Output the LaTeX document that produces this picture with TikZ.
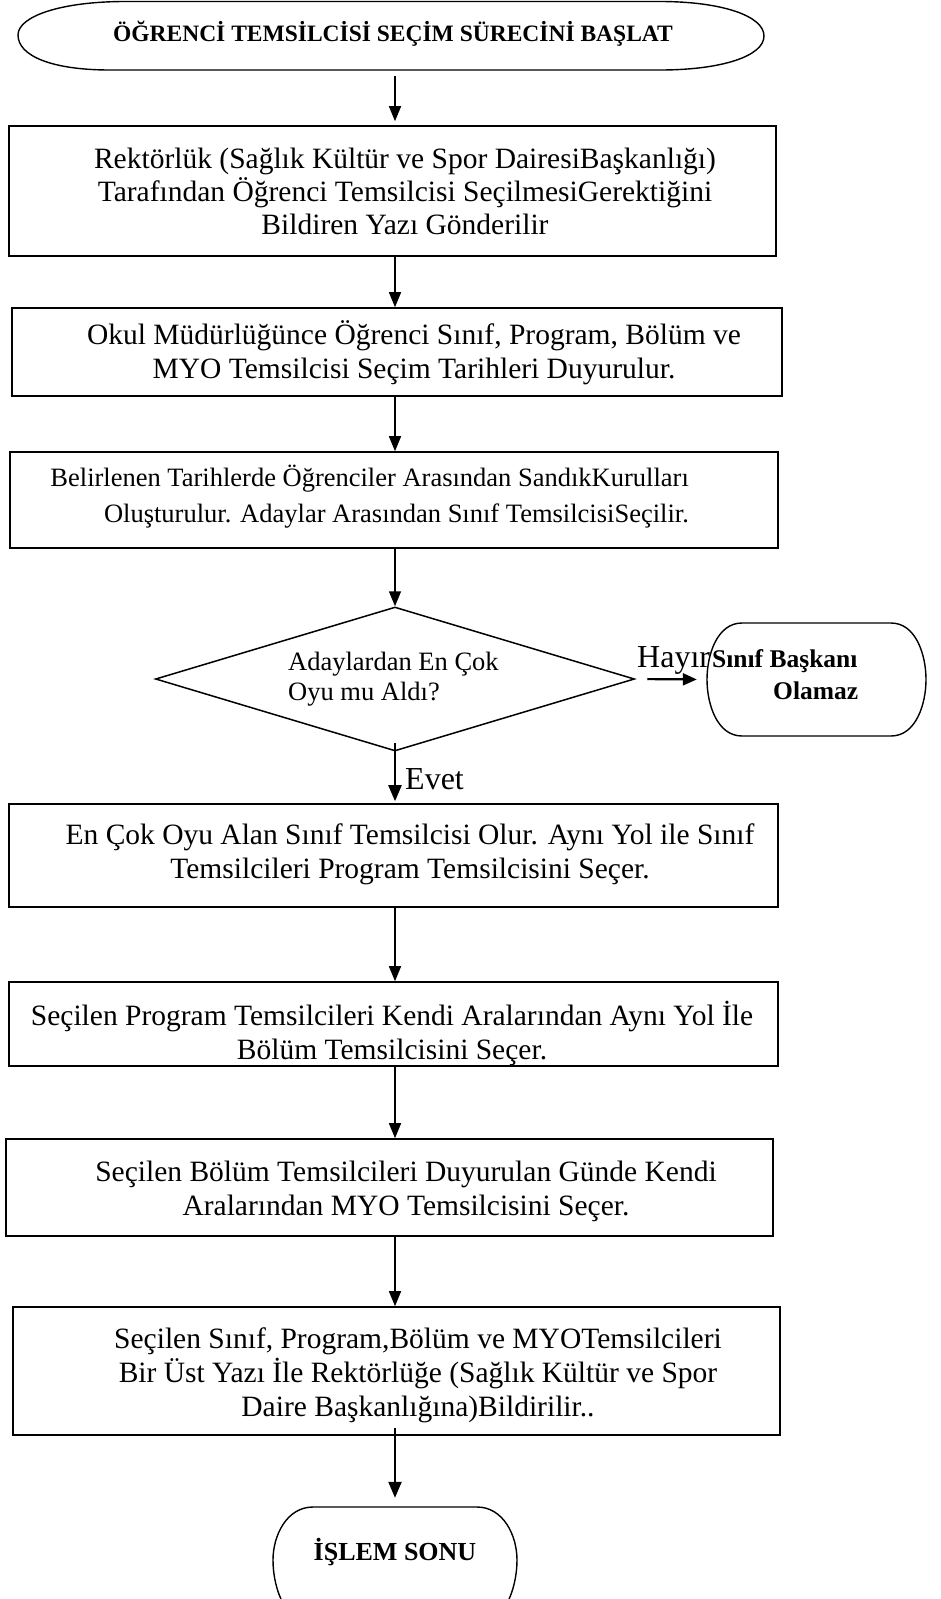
\documentclass[tikz,border=0pt]{standalone}
\usepackage{fontspec}
\setmainfont{Liberation Serif}
\usetikzlibrary{arrows.meta,shapes.geometric}
\tikzset{
  boxst/.style={draw, line width=1.6pt, inner sep=0pt},
  txt/.style={align=center, inner sep=0pt, font=\fontsize{29.5}{34}\selectfont},
  smalltxt/.style={inner sep=0pt, font=\fontsize{26.5}{30}\selectfont},
  boldtxt/.style={inner sep=0pt, font=\bfseries\fontsize{25.5}{30}\selectfont},
  lbl/.style={inner sep=0pt, font=\fontsize{32}{36}\selectfont},
  arr/.style={line width=1.5pt, -{Triangle[length=15pt,width=12pt]}},
  thickarr/.style={line width=2.3pt, -{Triangle[length=16pt,width=13pt]}},
  outline/.style={line width=1.4pt}
}
\begin{document}
\begin{tikzpicture}[x=1pt,y=-1pt]
\useasboundingbox (0,0) rectangle (941,1599);
\fill[white] (0,0) rectangle (941,1599);
\coordinate (ax) at (395,0);

% start terminator
\node[inner sep=0pt, minimum width=748pt, minimum height=69pt] (start) at (392,36) {};
\draw[outline] (125,1.5) -- (660,1.5) .. controls (722,1.5) and (764,16) .. (764,36)
  .. controls (764,56) and (722,70) .. (660,70) -- (110,70)
  .. controls (52,70) and (18,56) .. (18,35) .. controls (18,16) and (62,1.5) .. (125,1.5);
\node[inner sep=0pt, font=\bfseries\fontsize{23.5}{28}\selectfont] (starttxt) at (393,34) {ÖĞRENCİ TEMSİLCİSİ SEÇİM SÜRECİNİ BAŞLAT};

% boxes
\node[boxst, minimum width=767pt, minimum height=130pt] (b1) at (392.5,191) {};
\node[txt, font=\fontsize{29.5}{33}\selectfont] (t1) at (405,191) {Rektörlük (Sağlık Kültür ve Spor DairesiBaşkanlığı)\\Tarafından Öğrenci Temsilcisi SeçilmesiGerektiğini\\Bildiren Yazı Gönderilir};

\node[boxst, minimum width=770pt, minimum height=88pt] (b2) at (397,352) {};
\node[txt] (t2) at (414,353) {Okul Müdürlüğünce Öğrenci Sınıf, Program, Bölüm ve\\MYO Temsilcisi Seçim Tarihleri Duyurulur.};

\node[boxst, minimum width=768pt, minimum height=96pt] (b3) at (394,500) {};
\node[smalltxt, align=right, font=\fontsize{26.5}{36}\selectfont, anchor=east] (t3) at (689,497) {Belirlenen Tarihlerde Öğrenciler Arasından SandıkKurulları\\Oluşturulur. Adaylar Arasından Sınıf TemsilcisiSeçilir.};

% decision
\node[draw, diamond, line width=1.5pt, inner sep=0pt, minimum width=479pt, minimum height=144pt] (dec) at (395,679) {};
\node[smalltxt, align=left, anchor=west] (dectxt) at (288,679) {Adaylardan En Çok\\Oyu mu Aldı?};

% olamaz
\node[inner sep=0pt, minimum width=219pt, minimum height=113pt] (ol) at (816.5,679.5) {};
\draw[outline] (742,623) -- (891,623) .. controls (916,623) and (926,655) .. (926,679.5)
  .. controls (926,704) and (916,736) .. (891,736) -- (742,736)
  .. controls (717,736) and (707,704) .. (707,679.5) .. controls (707,655) and (717,623) .. (742,623);
\node[boldtxt, anchor=base west] (ol1) at (712,667) {Sınıf Başkanı};
\node[boldtxt, anchor=base west] (ol2) at (773,699) {Olamaz};
\node[lbl, anchor=base west] (hayir) at (637,667) {Hayır};
\draw[line width=2.2pt, -{Triangle[length=14pt,width=12pt]}, shorten <=12pt, shorten >=10pt] (dec.east) -- (ol.west);

\node[boxst, minimum width=769pt, minimum height=103pt] (b4) at (393.5,855.5) {};
\node[txt] (t4) at (410,854) {En Çok Oyu Alan Sınıf Temsilcisi Olur. Aynı Yol ile Sınıf\\Temsilcileri Program Temsilcisini Seçer.};

\node[boxst, minimum width=769pt, minimum height=84pt] (b5) at (393.5,1024) {};
\node[txt] (t5) at (392,1033) {Seçilen Program Temsilcileri Kendi Aralarından Aynı Yol İle\\Bölüm Temsilcisini Seçer.};

\node[boxst, minimum width=767pt, minimum height=97pt] (b6) at (389.5,1187.5) {};
\node[txt] (t6) at (406,1191) {Seçilen Bölüm Temsilcileri Duyurulan Günde Kendi\\Aralarından MYO Temsilcisini Seçer.};

\node[boxst, minimum width=767pt, minimum height=128pt] (b7) at (396.5,1371) {};
\node[txt] (t7) at (418,1375) {Seçilen Sınıf, Program,Bölüm ve MYOTemsilcileri\\Bir Üst Yazı İle Rektörlüğe (Sağlık Kültür ve Spor\\Daire Başkanlığına)Bildirilir..};

% end terminator
\node[inner sep=0pt, minimum width=244pt, minimum height=120pt] (endt) at (395,1567) {};
\draw[outline] (313,1507) -- (477,1507) .. controls (503,1507) and (517,1535) .. (517,1560)
  .. controls (517,1590) and (503,1625) .. (477,1625) -- (313,1625)
  .. controls (287,1625) and (273,1590) .. (273,1560) .. controls (273,1535) and (287,1507) .. (313,1507);
\node[inner sep=0pt, font=\bfseries\fontsize{26}{30}\selectfont] (endtxt) at (395,1552) {İŞLEM SONU};

% connectors
\draw[arr, shorten <=5pt, shorten >=4pt] (start.south -| ax) -- (b1.north -| ax);
\draw[arr] (b1.south -| ax) -- (b2.north -| ax);
\draw[arr] (b2.south -| ax) -- (b3.north -| ax);
\draw[arr] (b3.south -| ax) -- (dec.north);
\draw[thickarr, shorten >=2pt] ([yshift=9pt]dec.south) -- (b4.north -| dec.south);
\node[lbl, anchor=west] (evet) at (405,779) {Evet};
\draw[arr] (b4.south -| ax) -- (b5.north -| ax);
\draw[arr] (b5.south -| ax) -- (b6.north -| ax);
\draw[arr] (b6.south -| ax) -- (b7.north -| ax);
\draw[thickarr, shorten >=9pt] ([yshift=8pt]b7.south -| ax) -- (endt.north -| ax);
\end{tikzpicture}
\end{document}
